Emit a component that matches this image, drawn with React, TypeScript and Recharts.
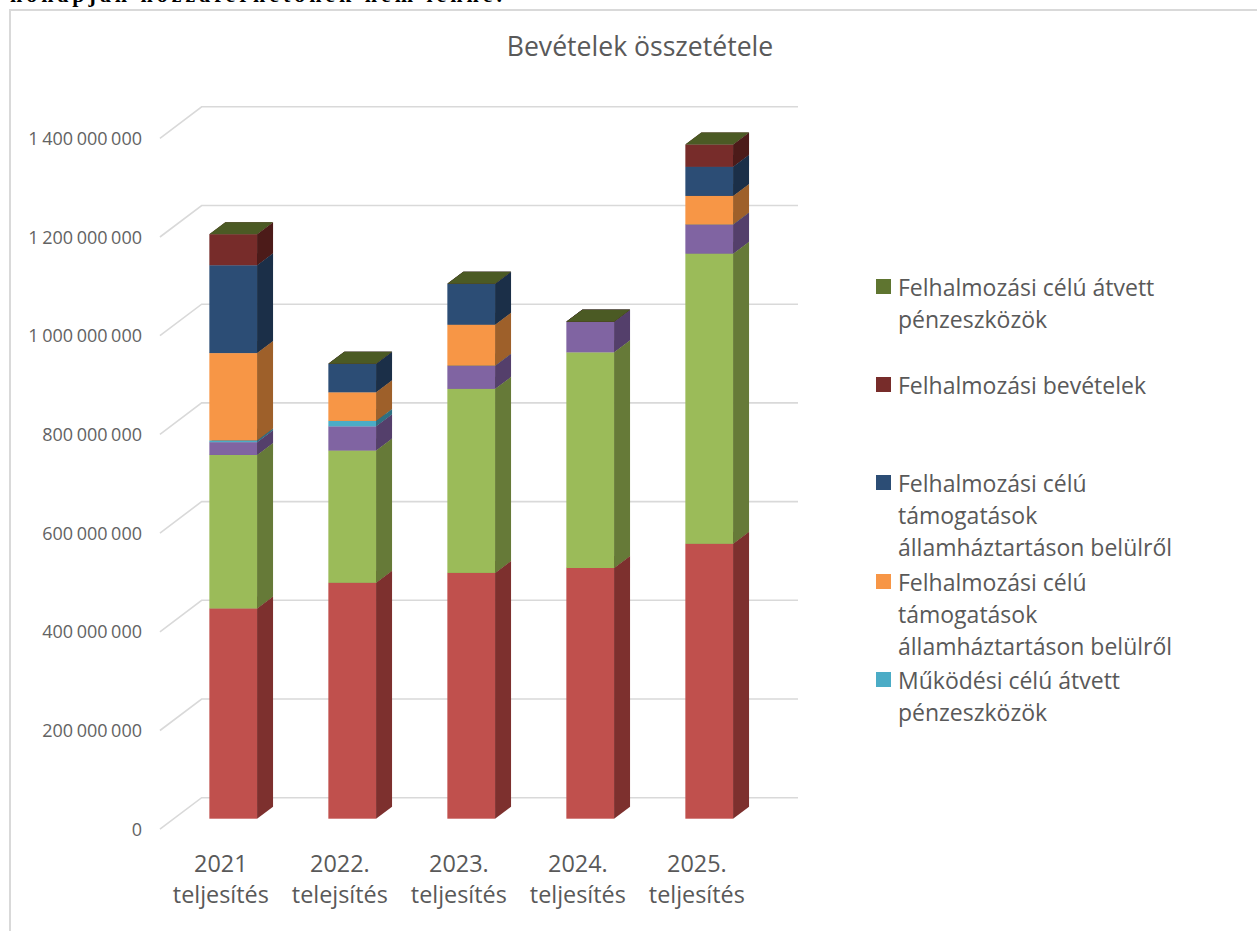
import React from 'react';
import { BarChart, Bar, XAxis, YAxis, CartesianGrid, Legend } from 'recharts';

const years = ['2021|teljesítés', '2022.|telejsítés', '2023.|teljesítés', '2024.|teljesítés', '2025.|teljesítés'];
const yTicks = [0, 200000000, 400000000, 600000000, 800000000, 1000000000, 1200000000, 1400000000];

const mukodesi = [426000000, 478000000, 498000000, 508000000, 557000000];
const kozhatalmi = [311000000, 268000000, 373000000, 437000000, 588000000];
const tamogatas = [26000000, 49000000, 47000000, 62000000, 59000000];
const atvettMukodesi = [3500000, 11000000, 0, 0, 0];
const tamogatasB = [177000000, 58000000, 83000000, 0, 58000000];
const tamogatasF = [178000000, 58000000, 83000000, 0, 59000000];
const felhalmozasi = [63000000, 0, 0, 0, 45000000];
const atvettFelh = [0, 0, 0, 0, 0];

const data = years.map((year, i) => ({
  year,
  mukodesi: mukodesi[i],
  kozhatalmi: kozhatalmi[i],
  tamogatas: tamogatas[i],
  atvettMukodesi: atvettMukodesi[i],
  tamogatasB: tamogatasB[i],
  tamogatasF: tamogatasF[i],
  felhalmozasi: felhalmozasi[i],
  atvettFelh: atvettFelh[i],
}));

const FONT = '"Open Sans", sans-serif';
const TEXT = '#595959';
const DEPTH_X = 16;
const DEPTH_Y = 12;

const Box3D = (props: any) => {
  const { x, y, width, height, fill, side, top } = props;
  const r = x + width;
  const b = y + height;
  return (
    <g>
      <polygon points={`${r},${b} ${r + DEPTH_X},${b - DEPTH_Y} ${r + DEPTH_X},${y - DEPTH_Y} ${r},${y}`} fill={side} />
      <polygon points={`${x},${y} ${r},${y} ${r + DEPTH_X},${y - DEPTH_Y} ${x + DEPTH_X},${y - DEPTH_Y}`} fill={top} />
      <rect x={x} y={y} width={width} height={height} fill={fill} />
    </g>
  );
};

const GridLine = (props: any) => {
  const { x1, x2, y1 } = props;
  return (
    <path
      d={`M${x1 - 13.4},${y1 + 10.5} L${x1 + 28.3},${y1 - 21} L${x2 + 29.65},${y1 - 21}`}
      fill="none"
      stroke="#d9d9d9"
      strokeWidth={1.6}
    />
  );
};

const YTick = ({ y, payload }: any) => (
  <text x={142} y={y + 17} textAnchor="end" fontFamily={FONT} fontSize={18} wordSpacing={-1.1} fill="#636363">
    {payload.value === 0 ? '0' : payload.value.toLocaleString('en-US').replace(/,/g, ' ')}
  </text>
);

const XTick = ({ x, payload }: any) => {
  const [a, b] = payload.value.split('|');
  return (
    <text textAnchor="middle" fontFamily={FONT} fontSize={23.4} fill={TEXT}>
      <tspan x={x - 12} y={872}>{a}</tspan>
      <tspan x={x - 12} y={903}>{b}</tspan>
    </text>
  );
};

const LegendBox = ({ payload }: any) => (
  <div style={{ fontFamily: FONT, fontSize: 23, lineHeight: '32px', color: TEXT }}>
    {[...(payload || [])].filter((item: any) => item.type !== 'none').reverse().map((item: any) => (
      <div key={item.dataKey} style={{ height: 98.2, position: 'relative', paddingLeft: 22, boxSizing: 'border-box' }}>
        <span style={{ position: 'absolute', left: 0, top: 8, width: 15, height: 15, background: item.color }} />
        {item.value}
      </div>
    ))}
  </div>
);

const series = [
  { key: 'mukodesi', name: 'Működési bevételek', fill: '#c0504d', side: '#7d302e', top: '#7d302e', hidden: true },
  { key: 'kozhatalmi', name: 'Közhatalmi bevételek', fill: '#9bbb59', side: '#667a38', top: '#667a38', hidden: true },
  { key: 'tamogatas', name: 'Működési támogatások', fill: '#8064a2', side: '#543f6b', top: '#543f6b', hidden: true },
  { key: 'atvettMukodesi', name: 'Működési célú átvett pénzeszközök', fill: '#4bacc6', side: '#2f7182', top: '#2f7182' },
  { key: 'tamogatasB', name: 'Felhalmozási célú támogatások államháztartáson belülről', fill: '#f79646', side: '#9e602a', top: '#9e602a' },
  { key: 'tamogatasF', name: 'Felhalmozási célú támogatások államháztartáson belülről', fill: '#2c4d75', side: '#1b2f48', top: '#1b2f48' },
  { key: 'felhalmozasi', name: 'Felhalmozási bevételek', fill: '#772c2a', side: '#4c1b19', top: '#4c1b19' },
  { key: 'atvettFelh', name: 'Felhalmozási célú átvett pénzeszközök', fill: '#5f7530', side: '#4b5a24', top: '#4b5a24' },
];

export default function App() {
  return (
    <div style={{ position: 'absolute', left: 0, top: 0, width: 1257, height: 931, overflow: 'hidden', background: '#fff' }}>
      <div style={{ position: 'absolute', left: 9, top: 9, right: 0, bottom: 0, borderTop: '2px solid #d9d9d9', borderLeft: '2px solid #d9d9d9' }} />
      <BarChart
        width={1257}
        height={931}
        data={data}
        barSize={47.7}
        margin={{ top: 127.8, right: 488.65, bottom: 0, left: 0 }}
        style={{ position: 'absolute', left: 0, top: 0 }}
      >
        <CartesianGrid vertical={false} horizontal={(p: any) => <GridLine key={p.index} {...p} />} />
        <XAxis dataKey="year" height={112.3} axisLine={false} tickLine={false} tick={<XTick />} interval={0} />
        <YAxis width={173.35} domain={[0, 1400000000]} ticks={yTicks} axisLine={false} tickLine={false} tick={<YTick />} interval={0} />
        <Legend
          layout="vertical"
          align="center"
          verticalAlign="middle"
          itemSorter={null}
          content={<LegendBox />}
          wrapperStyle={{ left: 876, top: 271, width: 310 }}
        />
        {series.map((s) => (
          <Bar
            key={s.key}
            dataKey={s.key}
            name={s.name}
            stackId="a"
            fill={s.fill}
            legendType={s.hidden ? 'none' : 'square'}
            isAnimationActive={false}
            shape={(p: any) => <Box3D {...p} side={s.side} top={s.top} />}
          />
        ))}
        <text x={640} y={56} textAnchor="middle" fontFamily={FONT} fontSize={26.6} fill={TEXT}>
          Bevételek összetétele
        </text>
        <text x={10} y={2} fontFamily='"Liberation Serif", serif' fontWeight="bold" fontSize={22} textLength={492} lengthAdjust="spacing" fill="#000">
          hónapján hozzáférhetőnek nem lenne.
        </text>
      </BarChart>
    </div>
  );
}
